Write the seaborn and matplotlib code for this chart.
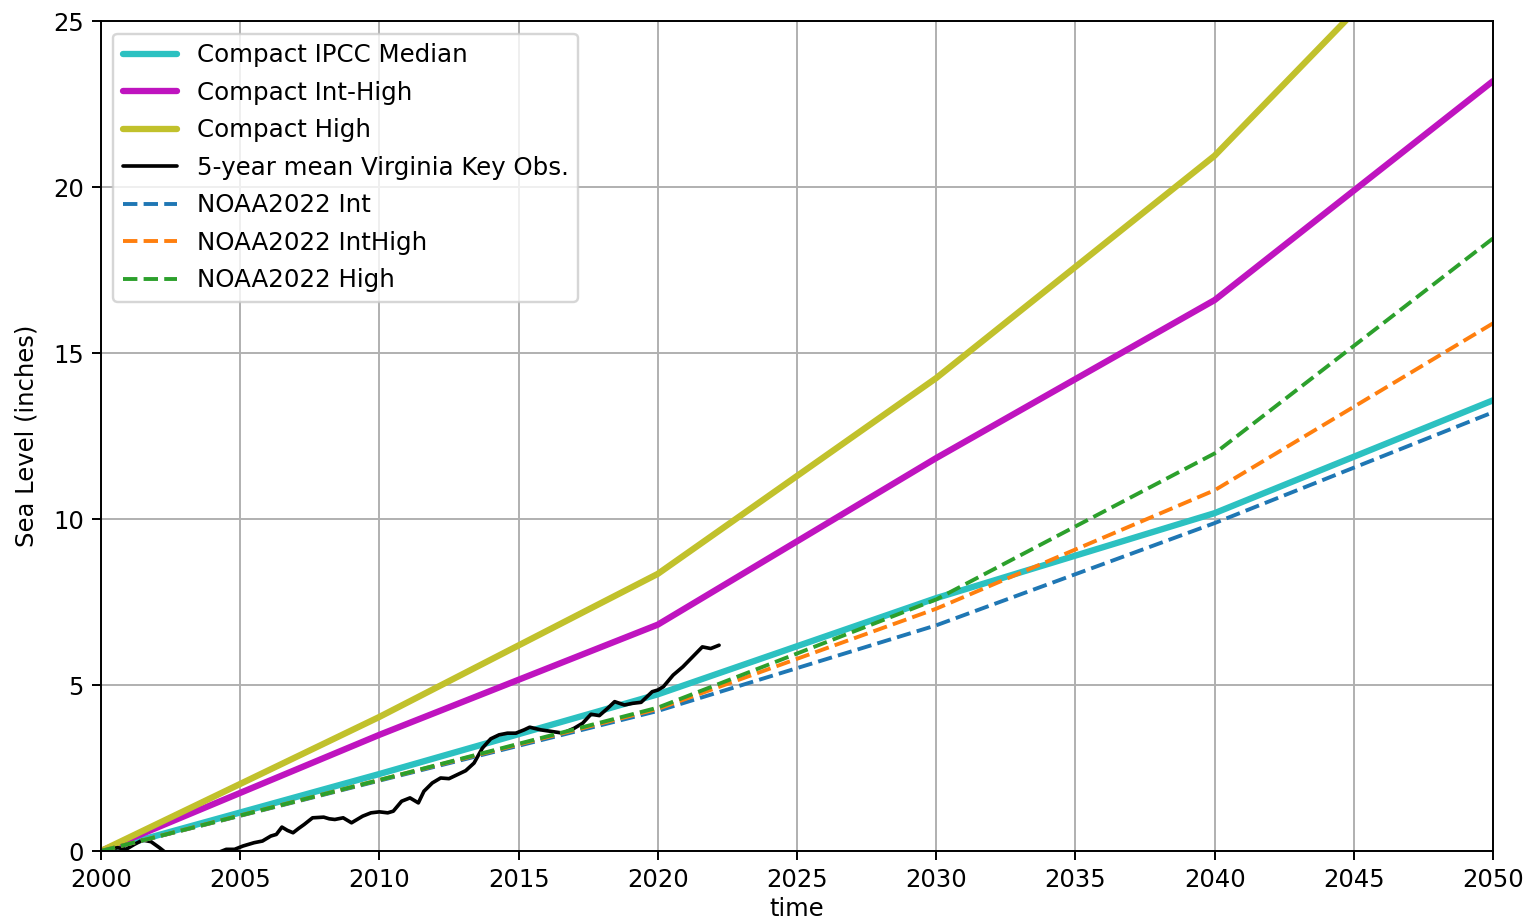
import matplotlib
matplotlib.use("Agg")
import matplotlib.pyplot as plt
import seaborn as sns

# Projection years (decadal nodes)
years = [2000, 2010, 2020, 2030, 2040, 2050]

# Compact projections (inches)
compact_median = [0.0, 2.32, 4.72, 7.62, 10.18, 13.58]
compact_inthigh = [0.0, 3.50, 6.82, 11.84, 16.60, 23.20]
compact_high = [0.0, 4.04, 8.35, 14.25, 20.95, 29.60]

# NOAA 2022 scenarios (inches)
noaa_int = [0.0, 2.12, 4.22, 6.80, 9.88, 13.22]
noaa_inthigh = [0.0, 2.14, 4.28, 7.30, 10.87, 15.90]
noaa_high = [0.0, 2.14, 4.32, 7.58, 11.98, 18.46]

# 5-year mean observed sea level at Virginia Key (inches)
obs_time = [2000.0, 2000.3, 2000.6, 2000.9, 2001.2, 2001.5, 2001.8, 2002.1,
            2002.4, 2002.8, 2003.3, 2003.8, 2004.2, 2004.5, 2004.8, 2005.1,
            2005.3, 2005.5, 2005.8, 2006.1, 2006.3, 2006.5, 2006.7, 2006.9,
            2007.1, 2007.3, 2007.6, 2008.0, 2008.2, 2008.4, 2008.7, 2009.0,
            2009.2, 2009.4, 2009.7, 2010.0, 2010.3, 2010.5, 2010.8, 2011.1,
            2011.4, 2011.6, 2011.9, 2012.2, 2012.5, 2012.8, 2013.1, 2013.4,
            2013.7, 2014.0, 2014.3, 2014.6, 2014.9, 2015.2, 2015.4, 2015.8,
            2016.2, 2016.6, 2017.0, 2017.3, 2017.6, 2017.9, 2018.2, 2018.45,
            2018.8, 2019.1, 2019.4, 2019.8, 2020.0, 2020.2, 2020.55, 2020.9,
            2021.25, 2021.6, 2021.9, 2022.2]
obs_level = [0.0, 0.05, 0.1, 0.05, 0.2, 0.33, 0.28, 0.1,
             -0.1, -0.3, -0.4, -0.3, -0.05, 0.05, 0.05, 0.15,
             0.2, 0.25, 0.3, 0.45, 0.5, 0.72, 0.62, 0.55,
             0.68, 0.8, 1.0, 1.02, 0.97, 0.95, 1.0, 0.85,
             0.95, 1.05, 1.15, 1.18, 1.15, 1.2, 1.5, 1.6,
             1.45, 1.8, 2.05, 2.2, 2.18, 2.3, 2.42, 2.65,
             3.1, 3.38, 3.5, 3.55, 3.55, 3.65, 3.73, 3.65,
             3.6, 3.55, 3.7, 3.85, 4.12, 4.08, 4.3, 4.5,
             4.4, 4.45, 4.48, 4.8, 4.85, 4.95, 5.3, 5.55,
             5.85, 6.15, 6.1, 6.2]

sns.set_theme(style="ticks", color_codes=False)
plt.rcParams.update({
    "font.family": ["DejaVu Sans"],
    "font.size": 10,
    "axes.labelsize": 10,
    "xtick.labelsize": 10,
    "ytick.labelsize": 10,
    "legend.fontsize": 10.1,
    "text.color": "black",
    "axes.labelcolor": "black",
    "axes.edgecolor": "black",
    "axes.linewidth": 0.8,
    "xtick.color": "black",
    "ytick.color": "black",
    "xtick.major.size": 3.5,
    "ytick.major.size": 3.5,
    "xtick.major.width": 0.8,
    "ytick.major.width": 0.8,
})

fig = plt.figure(figsize=(1527 / 175, 924 / 175), dpi=175)
ax = fig.add_axes([0.0661, 0.079, 0.9117, 0.898])

thick = 2.6
sns.lineplot(x=years, y=compact_median, ax=ax, color="#2cc1c1",
             lw=thick, label="Compact IPCC Median")
sns.lineplot(x=years, y=compact_inthigh, ax=ax, color="#bf14bf",
             lw=thick, label="Compact Int-High")
sns.lineplot(x=years, y=compact_high, ax=ax, color="#c1c12c",
             lw=thick, label="Compact High")
sns.lineplot(x=obs_time, y=obs_level, ax=ax, color="black", lw=1.5,
             label="5-year mean Virginia Key Obs.", sort=False)
sns.lineplot(x=years, y=noaa_int, ax=ax, color="#1f77b4", lw=1.6,
             linestyle="--", label="NOAA2022 Int")
sns.lineplot(x=years, y=noaa_inthigh, ax=ax, color="#ff7f0e", lw=1.6,
             linestyle="--", label="NOAA2022 IntHigh")
sns.lineplot(x=years, y=noaa_high, ax=ax, color="#2ca02c", lw=1.6,
             linestyle="--", label="NOAA2022 High")

ax.set_xlim(2000, 2050)
ax.set_ylim(0, 25)
ax.set_xticks(range(2000, 2051, 5))
ax.set_yticks(range(0, 26, 5))
ax.grid(True, color="#b0b0b0", linewidth=0.8)
ax.set_xlabel("time", labelpad=2)
ax.set_ylabel("Sea Level (inches)", labelpad=6)
for s in ax.spines.values():
    s.set_visible(True)
    s.set_color("black")

leg = ax.legend(loc="upper left", frameon=True, fancybox=True,
                framealpha=0.8, edgecolor="#cccccc", handlelength=2.2,
                labelspacing=0.55)

fig.savefig("out.png", dpi=175, facecolor="white")
